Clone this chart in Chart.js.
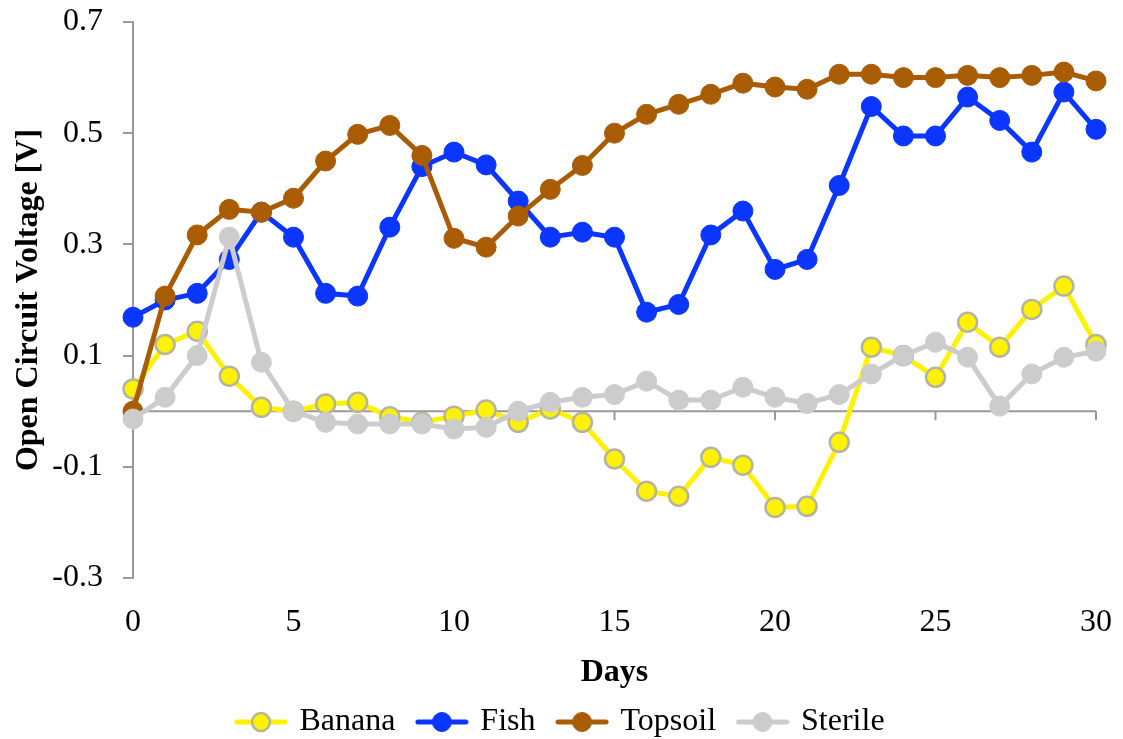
<!DOCTYPE html>
<html>
<head>
<meta charset="utf-8">
<script src="https://cdn.jsdelivr.net/npm/chart.js@4"></script>
<style>
  html, body { margin: 0; padding: 0; background: #fff; }
  canvas { display: block; }
</style>
</head>
<body>
<canvas id="ocvChart" width="1123" height="739"></canvas>
<script>
// 日数
const days = [0, 1, 2, 3, 4, 5, 6, 7, 8, 9, 10, 11, 12, 13, 14, 15, 16, 17, 18, 19, 20, 21, 22, 23, 24, 25, 26, 27, 28, 29, 30];

// 開放電圧 [V]
const banana = [0.04, 0.12, 0.144, 0.063, 0.007, 0.0, 0.013, 0.016, -0.01, -0.02, -0.009, 0.002, -0.02, 0.004, -0.02, -0.086, -0.144, -0.153, -0.083, -0.097, -0.173, -0.171, -0.056, 0.115, 0.1, 0.061, 0.16, 0.115, 0.183, 0.225, 0.12];
const fish = [0.169, 0.2, 0.212, 0.273, 0.358, 0.313, 0.212, 0.207, 0.331, 0.44, 0.466, 0.443, 0.378, 0.313, 0.322, 0.313, 0.178, 0.192, 0.317, 0.36, 0.255, 0.273, 0.406, 0.548, 0.495, 0.495, 0.565, 0.523, 0.466, 0.574, 0.507];
const topsoil = [0.0, 0.207, 0.317, 0.363, 0.358, 0.383, 0.45, 0.498, 0.514, 0.46, 0.311, 0.295, 0.351, 0.399, 0.442, 0.5, 0.534, 0.552, 0.57, 0.59, 0.583, 0.579, 0.606, 0.606, 0.6, 0.6, 0.604, 0.6, 0.604, 0.61, 0.594];
const sterile = [-0.014, 0.025, 0.1, 0.313, 0.088, 0.0, -0.02, -0.023, -0.023, -0.023, -0.032, -0.029, 0.0, 0.016, 0.025, 0.03, 0.054, 0.02, 0.02, 0.043, 0.025, 0.014, 0.03, 0.067, 0.1, 0.124, 0.097, 0.009, 0.067, 0.097, 0.108];

const seriesNames = ['Banana', 'Fish', 'Topsoil', 'Sterile'];
const xTicks = [0, 5, 10, 15, 20, 25, 30];
const yTicks = [-0.3, -0.1, 0.1, 0.3, 0.5, 0.7];

const AXIS_GRAY = '#999999';
const FONT = 'Liberation Serif';

const styles = [
  { line: '#FFF200', fill: '#FFF200', edge: '#B4B4A0', edgeW: 2.5, r: 9.5 },
  { line: '#0A36FF', fill: '#0A36FF', edge: '#0A36FF', edgeW: 1, r: 10 },
  { line: '#A95C04', fill: '#A95C04', edge: '#A95C04', edgeW: 1, r: 10 },
  { line: '#CCCCCC', fill: '#CCCCCC', edge: '#CCCCCC', edgeW: 1, r: 10 }
];

// 凡例用の線＋丸マーカー
function legendIcon(s) {
  const c = document.createElement('canvas');
  c.width = 54;
  c.height = 24;
  const g = c.getContext('2d');
  g.strokeStyle = s.line;
  g.lineWidth = 5;
  g.lineCap = 'round';
  g.beginPath();
  g.moveTo(3, 12);
  g.lineTo(51, 12);
  g.stroke();
  g.beginPath();
  g.arc(27, 12, s.r - 0.5, 0, Math.PI * 2);
  g.fillStyle = s.fill;
  g.fill();
  g.lineWidth = s.edgeW;
  g.strokeStyle = s.edge;
  g.stroke();
  return c;
}

const allSeries = [banana, fish, topsoil, sterile];
const datasets = allSeries.map((vals, i) => ({
  label: seriesNames[i],
  data: days.map((d, j) => ({ x: d, y: vals[j] })),
  borderColor: styles[i].line,
  backgroundColor: styles[i].fill,
  borderWidth: 5,
  pointRadius: styles[i].r,
  pointHoverRadius: styles[i].r,
  pointBackgroundColor: styles[i].fill,
  pointBorderColor: styles[i].edge,
  pointBorderWidth: styles[i].edgeW,
  tension: 0,
  clip: false,
  order: 4 - i
}));

// y=0 の横軸線と目盛り
const zeroAxisPlugin = {
  id: 'zeroAxis',
  beforeDatasetsDraw(chart) {
    const { ctx, chartArea, scales } = chart;
    const y0 = scales.y.getPixelForValue(0);
    ctx.save();
    ctx.strokeStyle = AXIS_GRAY;
    ctx.lineWidth = 2;
    ctx.beginPath();
    ctx.moveTo(chartArea.left, y0);
    ctx.lineTo(chartArea.right, y0);
    xTicks.forEach(t => {
      if (t === 0) return;
      const px = scales.x.getPixelForValue(t);
      ctx.moveTo(px, y0);
      ctx.lineTo(px, y0 + 9);
    });
    ctx.stroke();
    ctx.restore();
  }
};

new Chart(document.getElementById('ocvChart'), {
  type: 'line',
  data: { datasets: datasets },
  options: {
    responsive: false,
    animation: false,
    events: [],
    layout: { padding: { top: 22, right: 0, left: 0, bottom: -9 } },
    plugins: {
      tooltip: { enabled: false },
      legend: {
        position: 'bottom',
        labels: {
          font: { family: FONT, size: 32 },
          color: '#000',
          usePointStyle: true,
          pointStyleWidth: 45,
          padding: 24,
          generateLabels: () => seriesNames.map((n, i) => ({
            text: n,
            pointStyle: legendIcon(styles[i]),
            fillStyle: styles[i].fill,
            strokeStyle: styles[i].edge,
            lineWidth: 0,
            hidden: false,
            datasetIndex: i,
            fontColor: '#000'
          }))
        }
      }
    },
    scales: {
      x: {
        type: 'linear',
        min: 0,
        max: 30,
        afterBuildTicks: s => { s.ticks = xTicks.map(v => ({ value: v })); },
        ticks: {
          font: { family: FONT, size: 32 },
          color: '#000',
          padding: 25,
          maxRotation: 0
        },
        grid: { display: false, drawTicks: false },
        border: { display: false },
        title: {
          display: true,
          text: 'Days',
          font: { family: FONT, size: 32, weight: 'bold', lineHeight: 0.6 },
          color: '#000',
          padding: 0
        },
        afterFit: s => { s.height = 104; s.paddingLeft = 0; s.paddingRight = 0; }
      },
      y: {
        min: -0.3,
        max: 0.7,
        afterBuildTicks: s => { s.ticks = yTicks.map(v => ({ value: v })); },
        ticks: {
          font: { family: FONT, size: 32 },
          color: '#000',
          padding: 20,
          callback: v => v.toFixed(1)
        },
        grid: {
          drawOnChartArea: false,
          drawTicks: true,
          tickLength: 10,
          color: AXIS_GRAY,
          lineWidth: 2
        },
        border: { display: true, color: AXIS_GRAY, width: 2 },
        title: {
          display: true,
          text: 'Open Circuit Voltage [V]',
          font: { family: FONT, size: 32, weight: 'bold', lineHeight: 1 },
          color: '#000',
          padding: { top: 13, bottom: 0 }
        },
        afterFit: s => { s.width = 133; s.paddingTop = 0; s.paddingBottom = 0; }
      },
      yRight: {
        position: 'right',
        display: true,
        ticks: { display: false },
        grid: { display: false },
        border: { display: false },
        afterFit: s => { s.width = 27; s.paddingTop = 0; s.paddingBottom = 0; }
      }
    }
  },
  plugins: [zeroAxisPlugin]
});
</script>
</body>
</html>
